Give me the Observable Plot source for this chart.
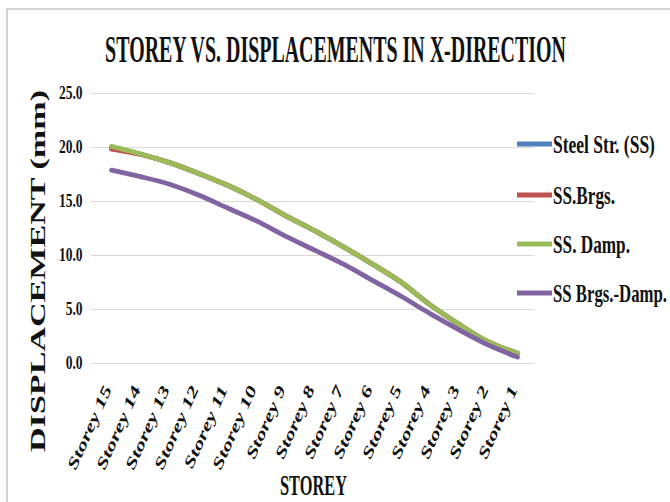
<!DOCTYPE html>
<html><head><meta charset="utf-8">
<script src="https://cdn.jsdelivr.net/npm/d3@7"></script>
<script src="https://cdn.jsdelivr.net/npm/@observablehq/plot@0.6"></script>
<style>body{margin:0;background:#fff} #chart{position:relative;width:670px;height:502px;overflow:hidden}</style>
</head><body><div id="chart"></div>
<script>
const storeys = ["Storey 15","Storey 14","Storey 13","Storey 12","Storey 11","Storey 10","Storey 9","Storey 8","Storey 7","Storey 6","Storey 5","Storey 4","Storey 3","Storey 2","Storey 1"];
const seriesNames = ["Steel Str. (SS)", "SS.Brgs.", "SS. Damp.", "SS Brgs.-Damp."];
const seriesColors = ["#4F81BD", "#C0504D", "#9BBB59", "#8064A2"];
const steelSS    = [20.0, 19.4, 18.6, 17.6, 16.5, 15.2, 13.7, 12.3, 10.8, 9.2, 7.5, 5.4, 3.6, 2.0, 0.95];
const ssBrgs     = [19.85, 19.35, 18.6, 17.6, 16.5, 15.2, 13.7, 12.3, 10.8, 9.2, 7.5, 5.4, 3.6, 2.0, 0.95];
const ssDamp     = [20.1, 19.4, 18.6, 17.6, 16.5, 15.2, 13.7, 12.3, 10.8, 9.2, 7.5, 5.4, 3.6, 2.0, 0.95];
const ssBrgsDamp = [17.9, 17.3, 16.6, 15.6, 14.4, 13.2, 11.8, 10.5, 9.2, 7.7, 6.2, 4.6, 3.1, 1.7, 0.6];
const yTicks = [0, 5, 10, 15, 20, 25];
const titleText = "STOREY VS. DISPLACEMENTS IN X-DIRECTION";
const yLabelText = "DISPLACEMENT (mm)";
const xLabelText = "STOREY";

const rows = [];
[steelSS, ssBrgs, ssDamp, ssBrgsDamp].forEach((vals, i) =>
  vals.forEach((v, j) => rows.push({storey: storeys[j], value: v, series: seriesNames[i]})));

const serif = "'Liberation Serif','Times New Roman',serif";
const plot = Plot.plot({
  width: 670, height: 502,
  marginLeft: 91, marginRight: 136, marginTop: 93, marginBottom: 139,
  style: {background: "white", fontFamily: serif, color: "#111"},
  x: {type: "point", domain: storeys, range: [108, 519], padding: 0},
  y: {domain: [0, 25]},
  color: {domain: seriesNames, range: seriesColors},
  marks: [
    Plot.gridY(yTicks, {stroke: "#d9d9d9", strokeOpacity: 1, strokeWidth: 1.2}),
    Plot.axisY(yTicks, {tickSize: 0, tickPadding: 9, tickFormat: d3.format(".1f"), fontSize: 18, fontWeight: "bold", label: null}),
    Plot.axisX({tickSize: 0, tickPadding: 23, dx: -4, tickRotate: -66, fontSize: 15, fontWeight: "bold", fontStyle: "italic", label: null}),
    Plot.line(rows, {x: "storey", y: "value", z: "series", stroke: "series", strokeWidth: 4.8, curve: "catmull-rom"})
  ]
});
document.getElementById("chart").append(plot);
const svg = d3.select(plot);

// x tick labels: stretch along their direction, keep the end at the anchor
svg.selectAll('g[aria-label="x-axis tick label"] text').each(function () {
  const L = this.getComputedTextLength() * 1.55;
  this.setAttribute("text-anchor", "start");
  this.setAttribute("x", -L);
  this.setAttribute("y", 0);
  this.setAttribute("dy", "0.35em");
  this.setAttribute("textLength", L);
  this.setAttribute("lengthAdjust", "spacingAndGlyphs");
});
// y tick labels: condensed, keep right edge
svg.selectAll('g[aria-label="y-axis tick label"] text').each(function () {
  const L = this.getComputedTextLength() * 0.75;
  const x0 = +(this.getAttribute("x") || 0);
  this.setAttribute("text-anchor", "start");
  this.setAttribute("x", x0 - L);
  this.setAttribute("textLength", L);
  this.setAttribute("lengthAdjust", "spacingAndGlyphs");
});

svg.insert("rect", ":first-child")
  .attr("x", 7).attr("y", 9).attr("width", 700).attr("height", 600)
  .attr("fill", "white").attr("stroke", "#d4d4d4").attr("stroke-width", 2);

// condensed text helper: draw at natural size then scale horizontally to target width
function condensed(parent, text, size, tx, ty, targetW, anchor) {
  const g = parent.append("g");
  const t = g.append("text").text(text)
    .attr("font-family", serif).attr("font-weight", "bold").attr("font-size", size)
    .attr("fill", "#111").attr("text-anchor", anchor);
  const L = t.node().getComputedTextLength();
  g.attr("transform", `translate(${tx},${ty}) scale(${targetW / L},1)`);
  return g;
}

condensed(svg, titleText, 38, 335.5, 62, 461, "middle");
condensed(svg, xLabelText, 30, 313.5, 495, 67, "middle");

svg.append("text").text(yLabelText)
  .attr("transform", "translate(45,271) rotate(-90)").attr("text-anchor", "middle")
  .attr("font-family", serif).attr("font-weight", "bold").attr("fill", "#111")
  .attr("font-size", 20).attr("textLength", 362).attr("lengthAdjust", "spacingAndGlyphs");

const legY = [144, 195, 244, 293];
const legW = [102, 62, 77, 114];
seriesNames.forEach((name, i) => {
  svg.append("line").attr("x1", 517).attr("x2", 552).attr("y1", legY[i]).attr("y2", legY[i])
    .attr("stroke", seriesColors[i]).attr("stroke-width", 4.8);
  condensed(svg, name, 26, 553, legY[i] + 9, legW[i], "start");
});
</script>
</body></html>
